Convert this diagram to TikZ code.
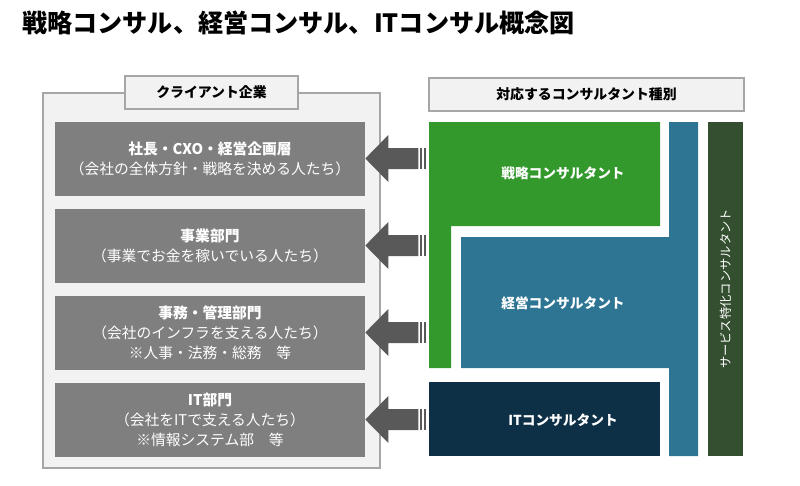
\documentclass[tikz,border=0pt]{standalone}
\usepackage{fontspec}
\setmainfont{Noto Sans CJK JP}
\usetikzlibrary{calc}

\definecolor{panelbg}{RGB}{242,242,242}
\definecolor{panelline}{RGB}{166,166,166}
\definecolor{deptgray}{RGB}{127,127,127}
\definecolor{arrowgray}{RGB}{89,89,89}
\definecolor{stratgreen}{RGB}{51,153,45}
\definecolor{mgmtblue}{RGB}{46,117,148}
\definecolor{itnavy}{RGB}{14,48,71}
\definecolor{svcgreen}{RGB}{52,78,48}

\begin{document}
\begin{tikzpicture}[x=0.02cm,y=-0.02cm,
        panel/.style={draw=panelline,fill=panelbg,line width=0.7pt,inner sep=0pt},
        tab/.style={draw=panelline,fill=panelbg,line width=0.7pt,minimum height=0.66cm,inner sep=0pt,font=\bfseries\fontsize{7.9}{9}\selectfont},
        dept/.style={fill=deptgray,text=white,minimum width=6.2cm,minimum height=1.48cm,inner sep=0pt,align=center,font=\fontsize{8.4}{11.3}\selectfont},
        clabel/.style={text=white,font=\bfseries\fontsize{7.8}{9}\selectfont},
        arr/.style={fill=arrowgray}]
        \useasboundingbox (0,0) rectangle (800,485);
        \node[anchor=west,inner sep=0pt,font=\bfseries\fontsize{14.3}{16}\selectfont] (title) at (22,22.5) {戦略コンサル、経営コンサル、ITコンサル概念図};
        \node[panel,minimum width=6.74cm,minimum height=7.5cm] (client) at (211.5,280.5) {};
        \node[tab,minimum width=3.46cm] (clienthead) at (client.north) {クライアント企業};
        \node[tab,minimum width=6.3cm] (typehead) at (586.5,94.5) {対応するコンサルタント種別};
        \foreach \k/\yy/\txt in {1/158.5/{\textbf{社長・CXO・経営企画層}\\（会社の全体方針・戦略を決める人たち）},
                2/245.5/{\textbf{事業部門}\\（事業でお金を稼いでいる人たち）},
                3/332.5/{\textbf{事務・管理部門}\\（会社のインフラを支える人たち）\\※人事・法務・総務\quad 等},
                4/419.5/{\textbf{IT部門}\\（会社をITで支える人たち）\\※情報システム部\quad 等}}{
            \node[dept] (b\k) at (210,\yy) {\txt};
            \fill[arr] (b\k.east) -- ++(23,-23.5) -- ++(0,13) -- ++(30,0) -- ++(0,21) -- ++(-30,0) -- ++(0,13) -- cycle;
            \fill[arr] ($(b\k.east)+(55,-10.5)$) rectangle ++(2,21);
            \fill[arr] ($(b\k.east)+(58.5,-10.5)$) rectangle ++(2.5,21);
        }
        \fill[stratgreen] (429,122) -- (660,122) -- (660,226) -- (451,226) -- (451,368) -- (429,368) -- cycle;
        \fill[mgmtblue] (461,237) -- (669,237) -- (669,122) -- (698,122) -- (698,456) -- (669,456) -- (669,368) -- (461,368) -- cycle;
        \fill[itnavy] (429,382) rectangle (660,456);
        \fill[svcgreen] (708,122) rectangle (743,456);
        \node[clabel] (strat) at (563,173) {戦略コンサルタント};
        \node[clabel] (mgmt) at (563,303) {経営コンサルタント};
        \node[clabel] (itc) at (563,420) {ITコンサルタント};
        \node[rotate=90,text=white,font=\fontsize{7}{8}\selectfont] (svc) at (725.5,289) {サービス特化コンサルタント};
    \end{tikzpicture}
\end{document}
